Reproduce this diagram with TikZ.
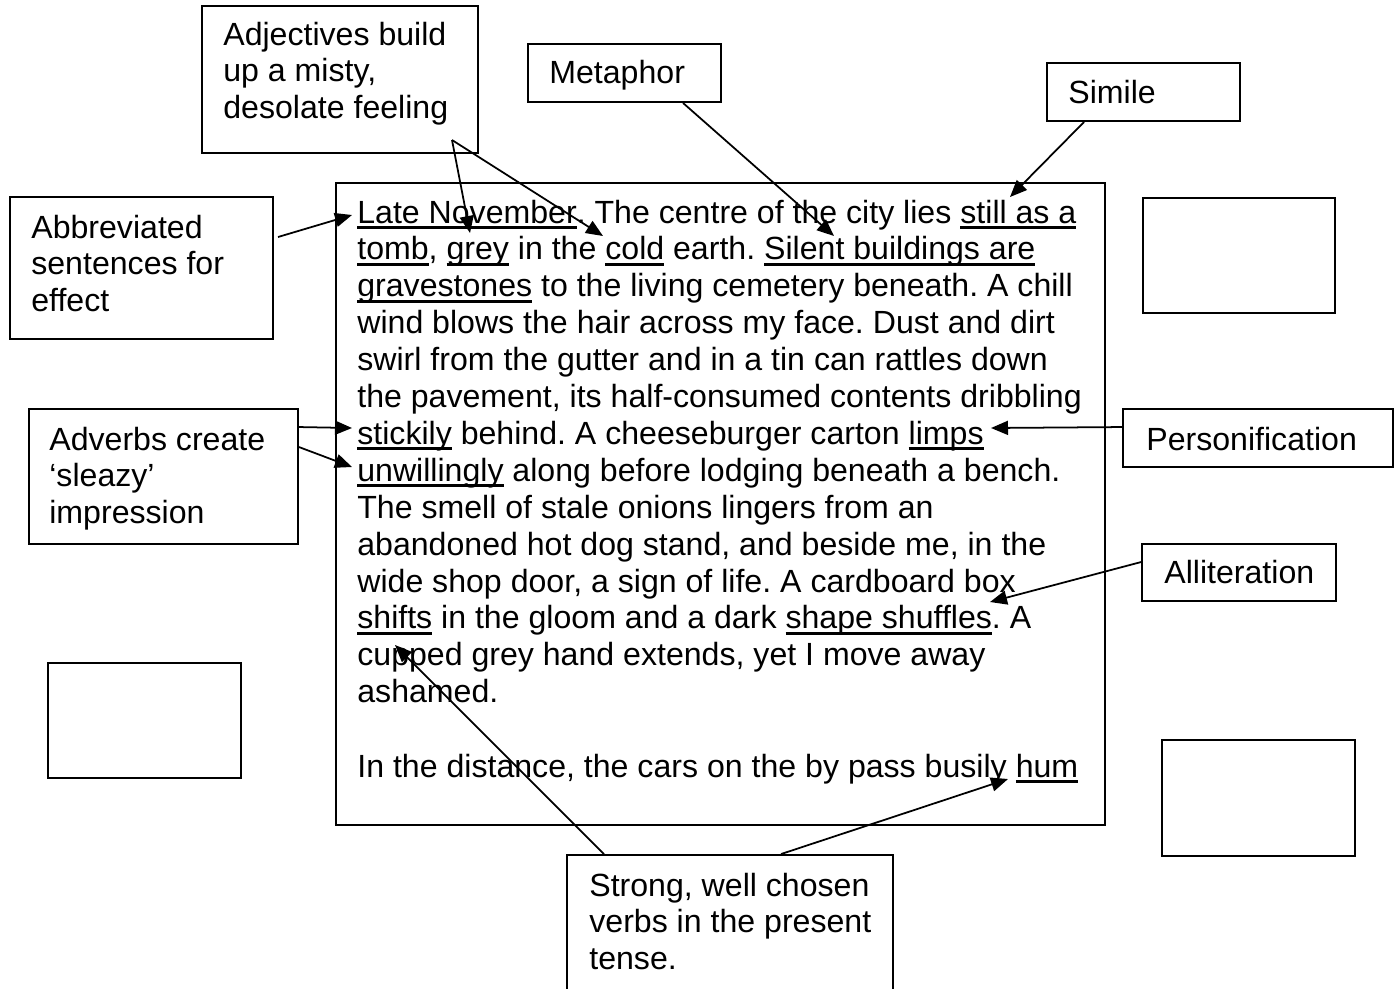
\documentclass[tikz,border=0pt]{standalone}
\usepackage{fontspec}
\setmainfont{Liberation Sans}
\usetikzlibrary{arrows.meta,calc,fit}
\frenchspacing
\newcommand{\undl}[1]{\setbox0\hbox{#1}\rlap{\rule[-0.18em]{\wd0}{0.09em}}\box0\relax}
\newcommand{\notelines}[1]{\begin{tabular}[t]{@{}l@{}}#1\end{tabular}}
\tikzset{
  box/.style={draw, line width=1.1pt, inner sep=0pt},
  note/.style={anchor=base west, inner sep=0pt},
  pointer/.style={line width=1pt, -{Triangle[length=0.34cm,width=0.28cm]}},
}
\begin{document}
\begin{tikzpicture}[x=0.02cm, y=-0.02cm, font=\fontsize{18.27}{21}\selectfont]
  \clip (0,0) rectangle (1398,988);
  \node[box, fit={(336,183) (1105,825)}] (passage) {};
  \foreach \txtline [count=\i] in {
    {\undl{Late November}. The centre of the city lies \undl{still as a}},
    {\undl{tomb}, \undl{grey} in the \undl{cold} earth. \undl{Silent buildings are}},
    {\undl{gravestones} to the living cemetery beneath. A chill},
    {wind blows the hair across my face. Dust and dirt},
    {swirl from the gutter and in a tin can rattles down},
    {the pavement, its half-consumed contents dribbling},
    {\undl{stickily} behind. A cheeseburger carton \undl{limps}},
    {\undl{unwillingly} along before lodging beneath a bench.},
    {The smell of stale onions lingers from an},
    {abandoned hot dog stand, and beside me, in the},
    {wide shop door, a sign of life. A cardboard box},
    {\undl{shifts} in the gloom and a dark \undl{shape shuffles}. A},
    {cupped grey hand extends, yet I move away},
    {ashamed.}}
    \node[note] (ln\i) at (357,{223+36.9*(\i-1)}) {\txtline};
  \node[note] (ln16) at (357,777) {In the distance, the cars on the by pass busily \undl{hum}};

  \node[box, fit={(202,6) (478,153)}] (adj) {};
  \node[note] (adjt) at (223,45) {\notelines{Adjectives build\\up a misty,\\desolate feeling}};
  \node[box, fit={(528,44) (721,102)}] (met) {};
  \node[note] (mett) at (549,83) {Metaphor};
  \node[box, fit={(1047,63) (1240,121)}] (sim) {};
  \node[note] (simt) at (1068,103) {Simile};
  \node[box, fit={(10,197) (273,339)}] (abb) {};
  \node[note] (abbt) at (31,238) {\notelines{Abbreviated\\sentences for\\effect}};
  \node[box, fit={(29,409) (298,544)}] (adv) {};
  \node[note] (advt) at (49,450) {\notelines{Adverbs create\\‘sleazy’\\impression}};
  \node[box, fit={(1123,409) (1393,467)}] (per) {};
  \node[note] (pert) at (1146,450) {Personification};
  \node[box, fit={(1142,544) (1336,601)}] (all) {};
  \node[note] (allt) at (1164,583) {Alliteration};
  \node[box, fit={(567,855) (893,1010)}] (str) {};
  \node[note] (strt) at (589,896) {\notelines{Strong, well chosen\\verbs in the present\\tense.}};
  \node[box, fit={(1143,198) (1335,313)}] (blank1) {};
  \node[box, fit={(48,663) (241,778)}] (blank2) {};
  \node[box, fit={(1162,740) (1355,856)}] (blank3) {};

  \coordinate (adjsrc) at (452,140);
  \coordinate (abbsrc) at (278,237);
  \coordinate (tlate) at (352,215);
  \coordinate (tgrey) at (470,233);
  \coordinate (tcold) at (603,236);
  \coordinate (tthe) at (834,236);
  \coordinate (tstill) at (1010,197);
  \coordinate (tstick) at (352,428);
  \coordinate (tunw) at (352,467);
  \coordinate (tlimps) at (991,428);
  \coordinate (tshape) at (990,602);
  \coordinate (tshift) at (395,645);
  \coordinate (thum) at (1008,779);

  \draw[pointer] (adjsrc) -- (tgrey);
  \draw[pointer] (adjsrc) -- (tcold);
  \draw[pointer] ($(met.south west)+(156,0)$) -- (tthe);
  \draw[pointer] ($(sim.south west)+(38,0)$) -- (tstill);
  \draw[pointer] (abbsrc) -- (tlate);
  \draw[pointer] ($(adv.north east)+(0,19)$) -- (tstick);
  \draw[pointer] ($(adv.north east)+(0,39)$) -- (tunw);
  \draw[pointer] ($(per.north west)+(0,19)$) -- (tlimps);
  \draw[pointer] ($(all.north west)+(0,19)$) -- (tshape);
  \draw[pointer] ($(str.north west)+(38,0)$) -- (tshift);
  \draw[pointer] ($(str.north west)+(215,0)$) -- (thum);
\end{tikzpicture}
\end{document}
